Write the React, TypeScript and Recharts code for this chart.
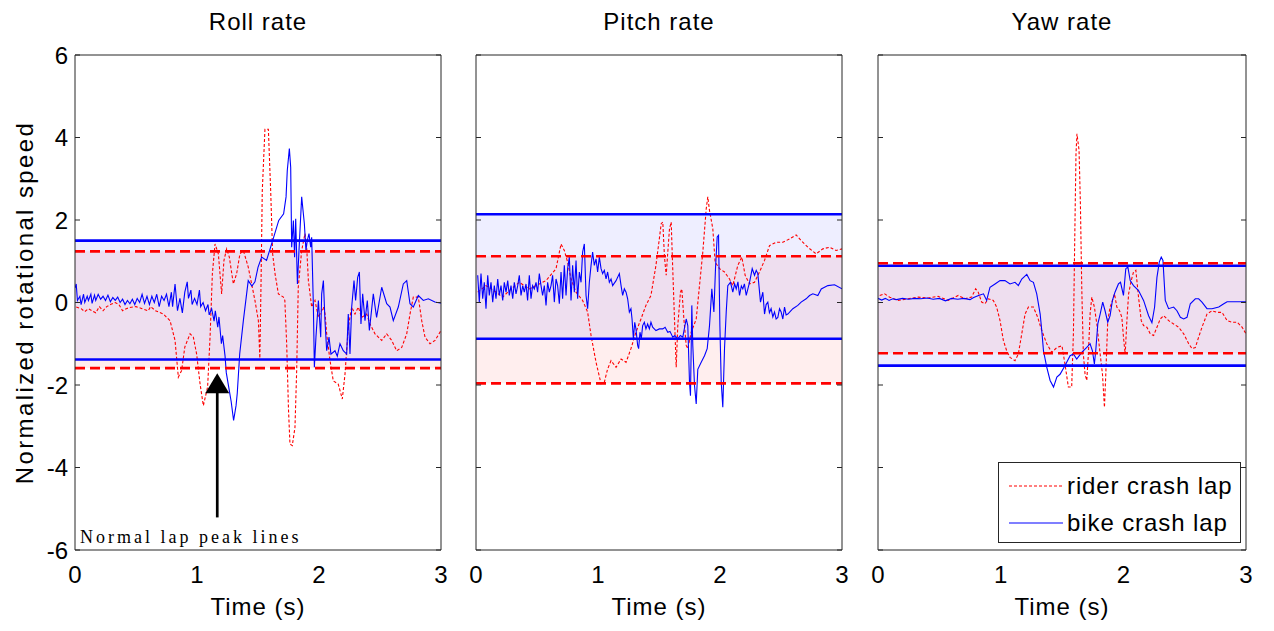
import React from 'react';
import { LineChart, Line, XAxis, YAxis, ReferenceArea, ReferenceLine, ReferenceDot, Legend } from 'recharts';

type Pt = [number, number];

const timeTicks = [0, 1, 2, 3];
const speedTicks = [-6, -4, -2, 0, 2, 4, 6];
const seriesNames = ['rider crash lap', 'bike crash lap'];

// normal lap peak levels: [rider high, rider low, bike high, bike low]
const rollPeaks = [1.24, -1.59, 1.5, -1.38];
const pitchPeaks = [1.12, -1.96, 2.14, -0.88];
const yawPeaks = [0.95, -1.23, 0.89, -1.53];

// annotation in the roll panel (time, value)
const arrowAt = { t: 1.166, tip: -1.716, tail: -5.21 };
const noteAt = { t: 0.041, v: -5.83 };

const rollRider: Pt[] = [
  [0.01, -0.11], [0.05, -0.15], [0.08, -0.22], [0.11, -0.15], [0.14, -0.2], [0.17, -0.25], [0.2, -0.1],
  [0.23, -0.2], [0.26, -0.1], [0.29, -0.05], [0.33, 0.0], [0.36, -0.05], [0.39, -0.2], [0.42, -0.15],
  [0.45, -0.12], [0.5, -0.1], [0.55, -0.15], [0.6, -0.2], [0.62, -0.1], [0.66, -0.2], [0.7, -0.25],
  [0.724, -0.28], [0.779, -0.44], [0.82, -0.92], [0.847, -1.81], [0.874, -1.65], [0.9, -1.08],
  [0.943, -0.76], [0.97, -0.84], [0.997, -1.25], [1.025, -1.97], [1.052, -2.5], [1.087, -2.05],
  [1.107, -0.84], [1.126, 0.7], [1.148, 1.42], [1.175, 1.18], [1.202, 0.21], [1.221, 1.02], [1.243, 1.3],
  [1.265, 1.1], [1.298, 0.45], [1.325, 0.7], [1.352, 1.18], [1.38, 1.26], [1.42, 0.86], [1.475, 0.05],
  [1.503, -0.44], [1.515, -1.35], [1.525, 0.5], [1.535, 2.7], [1.557, 4.2], [1.585, 4.2], [1.604, 2.7],
  [1.62, 1.18], [1.64, 0.69], [1.667, 0.21], [1.708, 0.13], [1.72, 0.05], [1.735, -1.0], [1.75, -2.6],
  [1.762, -3.43], [1.781, -3.47], [1.803, -3.03], [1.817, -1.65], [1.83, 0.37], [1.858, 1.26],
  [1.885, 1.67], [1.899, 1.34], [1.913, 0.53], [1.94, -0.11], [1.967, 0.05], [1.995, -0.36],
  [2.036, -0.11], [2.05, -0.28], [2.063, -0.76], [2.09, -1.4], [2.117, -1.9], [2.158, -1.98],
  [2.191, -2.34], [2.213, -1.74], [2.24, -0.6], [2.268, -0.11], [2.295, -0.28], [2.322, -0.11],
  [2.35, -0.36], [2.391, -0.28], [2.418, -0.52], [2.459, -0.76], [2.514, -0.92], [2.555, -0.76],
  [2.596, -0.92], [2.637, -1.17], [2.678, -1.09], [2.719, -0.76], [2.746, -0.28], [2.773, 0.13],
  [2.814, 0.13], [2.842, -0.44], [2.869, -0.84], [2.91, -1.0], [2.951, -0.92], [3.0, -0.68],
];

const rollBike: Pt[] = [
  [0.0, 0.35], [0.01, 0.45], [0.02, 0.05], [0.04, 0.15], [0.05, -0.05], [0.07, 0.2], [0.08, 0.0],
  [0.1, 0.15], [0.11, 0.05], [0.13, 0.2], [0.14, -0.02], [0.16, 0.18], [0.17, 0.05], [0.19, 0.2],
  [0.21, 0.08], [0.23, 0.15], [0.25, 0.05], [0.27, 0.18], [0.29, 0.02], [0.31, 0.12], [0.33, 0.05],
  [0.35, 0.13], [0.37, 0.0], [0.39, 0.08], [0.41, -0.05], [0.43, 0.05], [0.45, -0.03], [0.47, 0.08],
  [0.49, -0.05], [0.51, 0.1], [0.53, 0.0], [0.55, 0.2], [0.57, -0.02], [0.59, 0.15], [0.61, -0.05],
  [0.63, 0.15], [0.65, 0.0], [0.67, 0.2], [0.69, -0.1], [0.71, 0.15], [0.73, 0.05], [0.75, 0.2],
  [0.77, -0.1], [0.79, 0.25], [0.8, -0.1], [0.82, 0.45], [0.84, -0.2], [0.86, 0.1], [0.88, -0.25],
  [0.9, 0.25], [0.92, 0.5], [0.93, 0.1], [0.95, 0.3], [0.96, -0.05], [0.98, 0.1], [1.0, -0.05],
  [1.02, 0.3], [1.03, -0.1], [1.05, 0.0], [1.07, -0.2], [1.09, -0.05], [1.1, -0.3], [1.12, -0.15],
  [1.14, -0.45], [1.15, -0.2], [1.17, -0.6], [1.18, -0.35], [1.2, -1.0], [1.21, -0.8], [1.23, -1.3],
  [1.24, -1.7], [1.26, -2.05], [1.28, -2.4], [1.3, -2.86], [1.32, -2.5], [1.33, -2.2], [1.35, -1.25],
  [1.38, -0.44], [1.42, 0.53], [1.45, 0.4], [1.475, 0.5], [1.5, 0.85], [1.53, 1.1], [1.57, 1.02],
  [1.625, 1.55], [1.67, 1.99], [1.71, 2.15], [1.73, 2.56], [1.74, 3.2], [1.757, 3.73], [1.768, 3.28],
  [1.776, 1.34], [1.79, 1.99], [1.8, 1.1], [1.809, 2.03], [1.823, 0.45], [1.836, 1.26], [1.858, 2.56],
  [1.88, 1.91], [1.893, 1.26], [1.904, 1.5], [1.918, 1.67], [1.932, 1.34], [1.94, 1.58], [1.954, -0.11],
  [1.962, -1.57], [1.975, -0.84], [1.995, 0.05], [2.014, -0.84], [2.022, 0.21], [2.036, 0.53],
  [2.049, -0.44], [2.063, -1.17], [2.082, -0.84], [2.098, -1.25], [2.131, -1.17], [2.15, -1.3],
  [2.172, -1.0], [2.199, -1.17], [2.227, -1.25], [2.24, -0.28], [2.254, -1.25], [2.268, -0.11],
  [2.287, 0.53], [2.3, 0.05], [2.317, 0.61], [2.331, 0.74], [2.344, -0.52], [2.358, 0.21],
  [2.377, -0.44], [2.396, 0.05], [2.413, -0.68], [2.445, 0.21], [2.472, -0.36], [2.514, 0.37],
  [2.555, -0.03], [2.582, -0.11], [2.609, -0.44], [2.65, -0.11], [2.691, 0.45], [2.719, 0.53],
  [2.746, -0.03], [2.773, -0.11], [2.814, 0.17], [2.855, 0.05], [2.896, 0.09], [2.95, 0.01], [3.0, -0.02],
];

const pitchRider: Pt[] = [
  [0.014, 0.25], [0.082, 0.41], [0.164, 0.25], [0.219, 0.13], [0.273, 0.29], [0.355, 0.49],
  [0.437, 0.33], [0.519, 0.45], [0.574, 0.53], [0.656, 0.82], [0.697, 1.42], [0.724, 1.26],
  [0.751, 0.98], [0.779, 0.57], [0.82, 0.25], [0.874, 0.05], [0.915, -0.23], [0.943, -0.8],
  [0.984, -1.45], [1.025, -1.97], [1.052, -1.93], [1.079, -1.61], [1.107, -1.41], [1.148, -1.57],
  [1.189, -1.37], [1.23, -1.45], [1.27, -1.12], [1.311, -0.72], [1.352, -0.4], [1.393, -0.07],
  [1.434, 0.17], [1.475, 0.9], [1.503, 1.55], [1.518, 1.91], [1.531, 1.95], [1.545, 1.1],
  [1.559, 0.66], [1.572, 1.22], [1.586, 1.79], [1.6, 1.95], [1.608, 1.22], [1.622, 0.01],
  [1.641, -1.57], [1.654, -0.56], [1.676, 0.25], [1.687, 0.33], [1.704, -0.4], [1.723, -1.04],
  [1.736, -1.12], [1.764, -0.72], [1.785, -0.56], [1.805, -0.4], [1.832, 0.41], [1.859, 1.22],
  [1.887, 2.27], [1.9, 2.56], [1.914, 2.23], [1.941, 1.79], [1.96, 0.98], [1.996, 0.82],
  [2.037, 0.74], [2.078, 0.57], [2.105, 0.41], [2.146, 0.9], [2.179, 1.1], [2.206, 0.66],
  [2.242, 0.45], [2.283, 0.49], [2.324, 0.74], [2.365, 1.02], [2.406, 1.38], [2.461, 1.46],
  [2.515, 1.46], [2.57, 1.54], [2.624, 1.64], [2.665, 1.5], [2.72, 1.34], [2.788, 1.18],
  [2.843, 1.3], [2.898, 1.34], [2.952, 1.26], [3.0, 1.3],
];

const pitchBike: Pt[] = [
  [0.014, 0.66], [0.027, 0.01], [0.041, 0.7], [0.055, 0.09], [0.068, 0.49], [0.082, -0.15],
  [0.096, 0.66], [0.109, 0.17], [0.123, 0.49], [0.137, 0.01], [0.15, 0.41], [0.164, 0.09],
  [0.178, 0.57], [0.191, 0.17], [0.205, 0.41], [0.219, 0.05], [0.232, 0.49], [0.246, 0.25],
  [0.26, 0.53], [0.273, 0.17], [0.287, 0.41], [0.301, 0.09], [0.314, 0.49], [0.328, 0.21],
  [0.342, 0.41], [0.355, 0.66], [0.369, 0.17], [0.383, 0.41], [0.396, 0.25], [0.41, 0.45],
  [0.423, 0.05], [0.437, 0.66], [0.451, 0.09], [0.464, 0.41], [0.478, 0.33], [0.492, 0.49],
  [0.505, 0.25], [0.519, 0.7], [0.533, 0.41], [0.546, 0.17], [0.56, 0.41], [0.574, -0.07],
  [0.587, 0.49], [0.601, 0.25], [0.615, 0.41], [0.628, 0.66], [0.642, 0.01], [0.656, 0.57],
  [0.669, 0.41], [0.683, -0.03], [0.697, 0.74], [0.71, 0.09], [0.724, 0.9], [0.738, 0.17],
  [0.751, 0.82], [0.765, 1.1], [0.779, 0.05], [0.792, 0.9], [0.806, 0.25], [0.82, 1.02],
  [0.833, 0.09], [0.847, 0.74], [0.861, 0.49], [0.874, 1.22], [0.888, 1.42], [0.902, 0.17],
  [0.915, -0.15], [0.929, 0.49], [0.943, 0.9], [0.956, 1.22], [0.97, 0.9], [0.984, 1.06],
  [0.997, 0.74], [1.011, 1.1], [1.025, 0.82], [1.038, 0.7], [1.052, 0.78], [1.066, 0.57],
  [1.079, 0.74], [1.093, 0.49], [1.107, 0.57], [1.12, 0.41], [1.148, 0.53], [1.175, 0.7],
  [1.189, 0.41], [1.202, 0.17], [1.216, 0.33], [1.23, 0.25], [1.243, 0.09], [1.257, -0.23],
  [1.27, -0.15], [1.279, -0.4], [1.29, -0.88], [1.301, -0.48], [1.311, -0.64], [1.325, -1.04],
  [1.333, -1.12], [1.344, -0.72], [1.355, -0.88], [1.366, -0.56], [1.38, -0.48], [1.393, -0.64],
  [1.407, -0.52], [1.421, -0.64], [1.434, -0.48], [1.448, -0.6], [1.475, -0.68], [1.503, -0.64],
  [1.531, -0.64], [1.55, -0.6], [1.572, -0.72], [1.59, -0.7], [1.613, -0.84], [1.63, -0.8],
  [1.654, -0.88], [1.675, -0.8], [1.695, -0.84], [1.71, -0.6], [1.723, -0.4], [1.736, -0.56],
  [1.75, -1.93], [1.758, -2.26], [1.769, -0.07], [1.777, -1.04], [1.791, -2.01], [1.805, -2.46],
  [1.818, -1.62], [1.846, -1.45], [1.873, -1.29], [1.895, -1.12], [1.914, -0.56], [1.933, 0.33],
  [1.95, -0.23], [1.963, 0.82], [1.977, 1.59], [1.988, 1.63], [1.999, -0.56], [2.01, -1.93],
  [2.023, -2.54], [2.037, -1.12], [2.051, -0.23], [2.064, 0.41], [2.086, 0.49], [2.105, 0.25],
  [2.12, 0.45], [2.133, 0.33], [2.147, 0.5], [2.16, 0.17], [2.175, 0.4], [2.187, 0.33], [2.2, 0.45],
  [2.215, 0.17], [2.23, 0.35], [2.242, 0.49], [2.264, 0.82], [2.283, 0.66], [2.297, 0.78],
  [2.31, 0.7], [2.332, 0.01], [2.351, 0.25], [2.365, -0.28], [2.378, -0.05], [2.392, 0.01],
  [2.405, -0.25], [2.419, -0.15], [2.433, -0.35], [2.447, -0.23], [2.46, -0.4], [2.474, -0.36],
  [2.488, -0.15], [2.501, -0.23], [2.515, -0.4], [2.529, -0.11], [2.542, -0.3], [2.556, -0.28],
  [2.597, -0.15], [2.638, -0.07], [2.665, 0.01], [2.706, 0.09], [2.734, 0.17], [2.761, 0.21],
  [2.802, 0.17], [2.83, 0.33], [2.884, 0.41], [2.939, 0.43], [3.0, 0.33],
];

const yawRider: Pt[] = [
  [0.014, 0.17], [0.054, 0.21], [0.095, 0.13], [0.163, 0.05], [0.245, 0.09], [0.327, 0.13],
  [0.409, 0.11], [0.49, 0.15], [0.572, 0.05], [0.654, 0.17], [0.708, 0.09], [0.763, 0.13],
  [0.796, 0.33], [0.817, 0.25], [0.845, 0.01], [0.872, -0.03], [0.899, 0.09], [0.94, 0.05],
  [0.967, -0.11], [0.995, -0.44], [1.022, -0.92], [1.049, -1.17], [1.076, -1.33], [1.117, -1.41],
  [1.144, -1.25], [1.172, -0.76], [1.199, -0.28], [1.226, -0.11], [1.267, -0.11], [1.302, -0.36],
  [1.335, -0.68], [1.376, -1.0], [1.417, -1.21], [1.458, -1.09], [1.5, -1.05], [1.524, -1.49],
  [1.552, -2.05], [1.579, -2.05], [1.593, -0.76], [1.606, 1.99], [1.614, 3.6], [1.622, 4.09],
  [1.639, 3.69], [1.65, 2.39], [1.661, 0.37], [1.674, -1.25], [1.688, -1.74], [1.702, -1.89],
  [1.715, -1.25], [1.729, -0.28], [1.743, 0.13], [1.764, -0.11], [1.784, -0.52], [1.811, -1.25],
  [1.83, -1.74], [1.846, -2.54], [1.857, -1.74], [1.873, -0.44], [1.892, -0.11], [1.912, 0.05],
  [1.928, 0.21], [1.947, -0.11], [1.969, -0.2], [1.988, -0.36], [2.001, -0.84], [2.015, -1.25],
  [2.029, -0.44], [2.043, 0.21], [2.064, 0.53], [2.083, 0.74], [2.102, 0.78], [2.124, 0.13],
  [2.146, -0.44], [2.165, -0.56], [2.192, -0.6], [2.22, -0.76], [2.247, -0.8], [2.274, -0.6],
  [2.301, -0.4], [2.329, -0.32], [2.37, -0.44], [2.41, -0.52], [2.451, -0.6], [2.492, -0.76],
  [2.533, -1.0], [2.56, -1.12], [2.587, -1.09], [2.614, -0.84], [2.641, -0.6], [2.682, -0.28],
  [2.723, -0.2], [2.764, -0.24], [2.805, -0.24], [2.846, -0.44], [2.887, -0.48], [2.928, -0.48],
  [2.969, -0.6], [3.0, -0.76],
];

const yawBike: Pt[] = [
  [0.0, 0.1], [0.03, 0.06], [0.06, 0.1], [0.09, 0.05], [0.12, 0.09], [0.15, 0.07], [0.2, 0.1],
  [0.25, 0.08], [0.3, 0.1], [0.35, 0.09], [0.4, 0.11], [0.45, 0.08], [0.5, 0.1], [0.55, 0.04],
  [0.6, 0.1], [0.65, 0.08], [0.7, 0.1], [0.75, 0.07], [0.78, 0.12], [0.82, 0.17], [0.86, 0.21],
  [0.886, 0.05], [0.913, 0.37], [0.954, 0.45], [0.995, 0.53], [1.035, 0.53], [1.076, 0.45],
  [1.117, 0.49], [1.144, 0.41], [1.172, 0.57], [1.213, 0.68], [1.24, 0.53], [1.267, 0.49],
  [1.294, 0.21], [1.322, -0.28], [1.335, -0.68], [1.349, -1.17], [1.376, -1.57], [1.403, -1.89],
  [1.431, -2.05], [1.458, -1.81], [1.484, -1.74], [1.525, -1.53], [1.566, -1.29], [1.593, -1.25],
  [1.62, -1.37], [1.661, -1.21], [1.702, -1.09], [1.729, -1.0], [1.748, -1.17], [1.764, -1.49],
  [1.775, -1.17], [1.792, -0.52], [1.811, -0.28], [1.832, 0.01], [1.851, -0.2], [1.873, -0.48],
  [1.892, -0.32], [1.911, 0.05], [1.932, 0.25], [1.96, 0.45], [1.977, 0.49], [2.001, 0.17],
  [2.02, 0.82], [2.037, 0.86], [2.056, 0.53], [2.083, 0.41], [2.124, 0.29], [2.165, 0.05],
  [2.206, -0.32], [2.233, -0.49], [2.255, -0.11], [2.274, 0.61], [2.293, 0.98], [2.309, 1.1],
  [2.323, 1.02], [2.342, 0.05], [2.369, -0.15], [2.41, -0.11], [2.437, -0.2], [2.465, -0.36],
  [2.492, -0.4], [2.519, -0.36], [2.546, -0.03], [2.587, 0.09], [2.614, 0.09], [2.641, 0.01],
  [2.682, -0.15], [2.723, -0.15], [2.778, -0.11], [2.819, -0.03], [2.846, 0.02], [2.914, 0.02],
  [3.0, 0.02],
];

const RED = '#ff0000';
const BLUE = '#0000ff';
const AXIS = '#262626';
const FONT = '"Liberation Sans", Arial, Helvetica, sans-serif';

const toRows = (pts: Pt[]) => pts.map(([t, v]) => ({ t, v }));

// border axes draw only tick marks, no labels
const NoLabel = () => <g />;

// vertical y-axis title, centred on the plot
const YTitle = ({ viewBox }: any) => {
  const x = viewBox.x + 3;
  const y = viewBox.y + viewBox.height / 2;
  return (
    <text x={x} y={y} transform={`rotate(-90 ${x} ${y})`} textAnchor="middle" fontSize={24}
      letterSpacing={2.4} fill="#000" fontFamily={FONT}>
      Normalized rotational speed
    </text>
  );
};

const ArrowHead = ({ cx, cy }: any) => (
  <polygon points={`${cx},${cy} ${cx - 12},${cy + 20} ${cx + 12},${cy + 20}`} fill="#000" />
);

const NoteText = ({ cx, cy }: any) => (
  <text x={cx} y={cy} fontSize={18} letterSpacing={3} fill="#000"
    fontFamily='"Liberation Serif", "Times New Roman", serif'>
    Normal lap peak lines
  </text>
);

const legendRows = [
  { name: seriesNames[0], color: RED, dash: '3 2' },
  { name: seriesNames[1], color: BLUE, dash: undefined },
];

const LegendBox = () => (
  <div style={{
    width: 243, height: 81, boxSizing: 'border-box', border: `1px solid ${AXIS}`, background: '#fff',
    paddingTop: 4, fontFamily: FONT, fontSize: 24, letterSpacing: 0.9, color: '#000',
  }}>
    {legendRows.map((r) => (
      <div key={r.name} style={{ display: 'flex', alignItems: 'center', height: 37 }}>
        <svg width={54} height={4} style={{ marginLeft: 10, marginRight: 4 }}>
          <line x1={0} y1={2} x2={54} y2={2} stroke={r.color} strokeWidth={1.2} strokeDasharray={r.dash} />
        </svg>
        <span style={{ lineHeight: '24px' }}>{r.name}</span>
      </div>
    ))}
  </div>
);

interface PanelProps {
  title: string;
  rider: Pt[];
  bike: Pt[];
  peaks: number[];
  left: number;
  width: number;
  marginLeft: number;
  marginRight: number;
  first?: boolean;
  last?: boolean;
}

function RatePanel({ title, rider, bike, peaks, left, width, marginLeft, marginRight, first, last }: PanelProps) {
  const tickFont = { fontSize: 24, fill: '#000', fontFamily: FONT };
  const tickMark = { stroke: AXIS };
  return (
    <div style={{ position: 'absolute', left, top: 0 }}>
      <LineChart width={width} height={631} margin={{ top: 55, right: marginRight, bottom: 0, left: marginLeft }}>
        <XAxis xAxisId={0} dataKey="t" type="number" domain={[0, 3]} ticks={timeTicks} interval={0}
          allowDataOverflow height={81} axisLine={false} tickLine={false} tickSize={0} tickMargin={16}
          tick={tickFont}
          label={{ value: 'Time (s)', position: 'insideBottom', offset: 16, fontSize: 24, fill: '#000', letterSpacing: 1 }} />
        <XAxis xAxisId="bm" type="number" domain={[0, 3]} ticks={timeTicks} interval={0} allowDataOverflow
          orientation="bottom" mirror tick={NoLabel} tickLine={tickMark} tickSize={5} stroke={AXIS} />
        <XAxis xAxisId="tm" type="number" domain={[0, 3]} ticks={timeTicks} interval={0} allowDataOverflow
          orientation="top" mirror tick={NoLabel} tickLine={tickMark} tickSize={5} stroke={AXIS}
          label={{ value: title, position: 'top', offset: 25, fontSize: 24, fill: '#000', letterSpacing: 1 }} />
        {first ? (
          <YAxis yAxisId={0} type="number" domain={[-6, 6]} ticks={speedTicks} interval={0} allowDataOverflow
            width={45} axisLine={false} tickLine={false} tickSize={0} tickMargin={7} tick={tickFont}
            label={YTitle} />
        ) : null}
        <YAxis yAxisId={first ? 'lm' : 0} type="number" domain={[-6, 6]} ticks={speedTicks} interval={0}
          allowDataOverflow orientation="left" mirror tick={NoLabel} tickLine={tickMark} tickSize={5} stroke={AXIS} />
        <YAxis yAxisId="rm" type="number" domain={[-6, 6]} ticks={speedTicks} interval={0} allowDataOverflow
          orientation="right" mirror tick={NoLabel} tickLine={tickMark} tickSize={5} stroke={AXIS} />

        <ReferenceArea y1={peaks[1]} y2={peaks[0]} fill={RED} fillOpacity={0.066} stroke="none" />
        <ReferenceArea y1={peaks[3]} y2={peaks[2]} fill={BLUE} fillOpacity={0.066} stroke="none" />

        <Line data={toRows(rider)} dataKey="v" name={seriesNames[0]} type="linear" stroke={RED}
          strokeWidth={1.1} strokeDasharray="3 2" dot={false} activeDot={false} isAnimationActive={false} />
        <Line data={toRows(bike)} dataKey="v" name={seriesNames[1]} type="linear" stroke={BLUE}
          strokeWidth={1.1} dot={false} activeDot={false} isAnimationActive={false} />

        <ReferenceLine y={peaks[2]} stroke={BLUE} strokeWidth={2.6} />
        <ReferenceLine y={peaks[3]} stroke={BLUE} strokeWidth={2.6} />
        <ReferenceLine y={peaks[0]} stroke={RED} strokeWidth={2.6} strokeDasharray="10 5" />
        <ReferenceLine y={peaks[1]} stroke={RED} strokeWidth={2.6} strokeDasharray="10 5" />

        {first ? (
          <ReferenceLine segment={[{ x: arrowAt.t, y: arrowAt.tail }, { x: arrowAt.t, y: arrowAt.tip - 0.4 }]}
            stroke="#000" strokeWidth={2.7} />
        ) : null}
        {first ? <ReferenceDot x={arrowAt.t} y={arrowAt.tip} shape={ArrowHead} /> : null}
        {first ? <ReferenceDot x={noteAt.t} y={noteAt.v} shape={NoteText} /> : null}

        {last ? (
          <Legend layout="horizontal" verticalAlign="middle" align="center" content={LegendBox}
            wrapperStyle={{ left: 138, top: 462, width: 243, height: 81 }} />
        ) : null}
      </LineChart>
    </div>
  );
}

export default function App() {
  return (
    <div style={{ position: 'absolute', left: 0, top: 0, width: 1274, height: 631, background: '#fff', fontFamily: FONT }}>
      <RatePanel title="Roll rate" rider={rollRider} bike={rollBike} peaks={rollPeaks}
        left={0} width={460} marginLeft={30} marginRight={19} first />
      <RatePanel title="Pitch rate" rider={pitchRider} bike={pitchBike} peaks={pitchPeaks}
        left={460} width={400} marginLeft={16} marginRight={18} />
      <RatePanel title="Yaw rate" rider={yawRider} bike={yawBike} peaks={yawPeaks}
        left={860} width={414} marginLeft={18} marginRight={28} last />
    </div>
  );
}
